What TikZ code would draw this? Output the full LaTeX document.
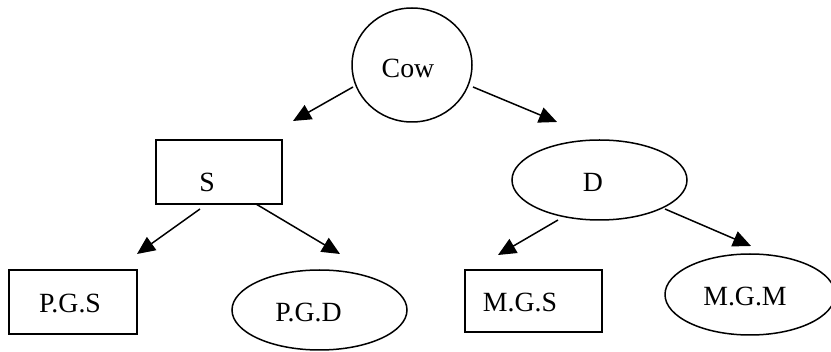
\documentclass[tikz,border=0pt]{standalone}
\usepackage{fontspec}
\setmainfont{Liberation Serif}
\usetikzlibrary{shapes.geometric,arrows.meta}
\begin{document}
\begin{tikzpicture}[x=0.5pt,y=-0.5pt,
  every node/.style={font=\fontsize{13.9pt}{16pt}\selectfont},
  shp/.style={draw,line width=0.75pt,inner sep=0pt},
  ell/.style={shp,ellipse},
  box/.style={shp,rectangle},
  arr/.style={line width=0.75pt,-{Triangle[length=9pt,width=8pt]}},
  txt/.style={inner sep=0pt}]
\useasboundingbox (0,0) rectangle (831,352);
% nodes
\node[ell,minimum width=60pt,minimum height=57pt,
  label={[txt,xshift=-2pt,yshift=-1.5pt]center:Cow}] (Cow) at (412,65) {};
\node[box,minimum width=63pt,minimum height=32pt,
  label={[txt,xshift=-6pt,yshift=-5pt]center:S}] (S) at (219,172) {};
\node[ell,minimum width=87.5pt,minimum height=40pt,
  label={[txt,xshift=-3.25pt,yshift=-1pt]center:D}] (D) at (599.5,180) {};
\node[box,minimum width=64pt,minimum height=32pt,
  label={[txt,xshift=-1.5pt,yshift=-0.5pt]center:P.G.S}] (PGS) at (73,302) {};
\node[ell,minimum width=87.5pt,minimum height=40pt,
  label={[txt,xshift=-5.5pt,yshift=-1pt]center:P.G.D}] (PGD) at (319.5,310) {};
\node[box,minimum width=68.5pt,minimum height=31pt,
  label={[txt,xshift=-6.75pt,yshift=-0.5pt]center:M.G.S}] (MGS) at (533.5,301) {};
\node[ell,minimum width=85pt,minimum height=40.5pt,
  label={[txt,xshift=-2.5pt,yshift=-0.75pt]center:M.G.M}] (MGM) at (750,294.5) {};
% connector ends
\coordinate (sCS) at (353,87);   \coordinate (tS) at (293,121);
\coordinate (sCD) at (473,87);   \coordinate (tD) at (557,122);
\coordinate (sSP1) at (200,209); \coordinate (tPGS) at (137,254);
\coordinate (sSP2) at (256,204); \coordinate (tPGD) at (340,254);
\coordinate (sDM1) at (558,220); \coordinate (tMGS) at (498,255);
\coordinate (sDM2) at (665,209); \coordinate (tMGM) at (751,246);
% connectors
\draw[arr] (sCS) -- (tS);
\draw[arr] (sCD) -- (tD);
\draw[arr] (sSP1) -- (tPGS);
\draw[arr] (sSP2) -- (tPGD);
\draw[arr] (sDM1) -- (tMGS);
\draw[arr] (sDM2) -- (tMGM);
\end{tikzpicture}
\end{document}
